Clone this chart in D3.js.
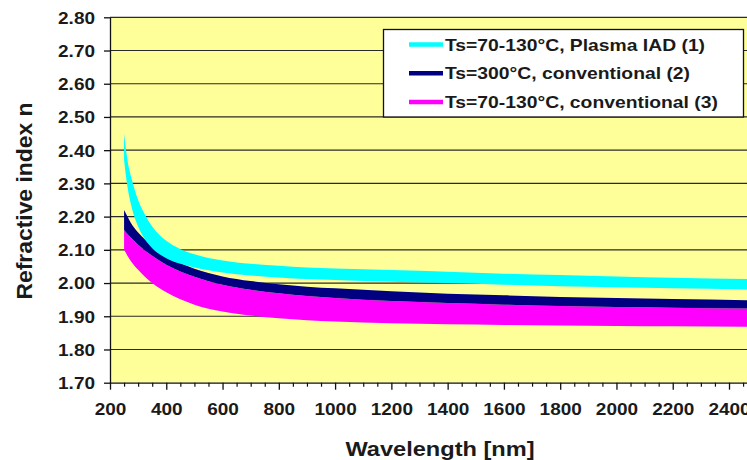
<!DOCTYPE html>
<html>
<head>
<meta charset="utf-8">
<script src="https://cdn.jsdelivr.net/npm/d3@7"></script>
<style>
  body { margin: 0; background: #fff; }
  svg { display: block; font-family: "Liberation Sans", Arial, sans-serif; }
</style>
</head>
<body>
<svg width="747" height="460"></svg>
<script>
// wavelengths (nm) sampled along the curves
const wavelength = [250, 262, 275, 300, 325, 350, 400, 450, 500, 600, 700, 800, 900, 1000, 1200, 1400, 1600, 1800, 2000, 2200, 2500];

// (1) Ts=70-130°C, Plasma IAD - band upper / lower edge
const iadUpper = [2.45, 2.37, 2.32, 2.25, 2.205, 2.17, 2.127, 2.102, 2.087, 2.068, 2.058, 2.052, 2.047, 2.044, 2.039, 2.034, 2.028, 2.024, 2.02, 2.016, 2.012];
const iadLower = [2.37, 2.29, 2.235, 2.17, 2.13, 2.105, 2.075, 2.058, 2.047, 2.032, 2.023, 2.017, 2.012, 2.009, 2.004, 2.0, 1.995, 1.99, 1.987, 1.984, 1.98];

// (2) Ts=300°C, conventional
const hotUpper = [2.22, 2.2, 2.18, 2.152, 2.13, 2.112, 2.082, 2.06, 2.043, 2.02, 2.006, 1.996, 1.989, 1.984, 1.975, 1.968, 1.963, 1.958, 1.955, 1.952, 1.948];
const hotLower = [2.16, 2.148, 2.136, 2.115, 2.097, 2.082, 2.055, 2.035, 2.019, 1.995, 1.98, 1.969, 1.961, 1.955, 1.946, 1.94, 1.935, 1.931, 1.928, 1.926, 1.923];

// (3) Ts=70-130°C, conventional
const coldUpper = [2.16, 2.148, 2.136, 2.115, 2.097, 2.082, 2.055, 2.035, 2.019, 1.995, 1.98, 1.969, 1.961, 1.955, 1.946, 1.94, 1.935, 1.931, 1.928, 1.926, 1.923];
const coldLower = [2.10, 2.082, 2.065, 2.04, 2.018, 2.0, 1.972, 1.951, 1.935, 1.914, 1.902, 1.894, 1.888, 1.884, 1.879, 1.876, 1.874, 1.872, 1.871, 1.87, 1.868];

const yTicks = [1.70, 1.80, 1.90, 2.00, 2.10, 2.20, 2.30, 2.40, 2.50, 2.60, 2.70, 2.80];
const xTicks = [200, 400, 600, 800, 1000, 1200, 1400, 1600, 1800, 2000, 2200, 2400];
const xMinorTicks = d3.range(250, 2451, 50).filter(v => v % 200 !== 0);

const seriesNames = ["Ts=70-130°C, Plasma IAD (1)", "Ts=300°C, conventional (2)", "Ts=70-130°C, conventional (3)"];
const seriesColors = ["#00ffff", "#000080", "#ff00ff"];

const series = [
  { name: seriesNames[0], color: seriesColors[0], upper: iadUpper, lower: iadLower },
  { name: seriesNames[1], color: seriesColors[1], upper: hotUpper, lower: hotLower },
  { name: seriesNames[2], color: seriesColors[2], upper: coldUpper, lower: coldLower }
];

const svg = d3.select('svg');
const plot = { left: 110, right: 747.3, top: 17.3, bottom: 382.7 };

const x = d3.scaleLinear().domain([200, 2465]).range([plot.left, plot.right]);
const y = d3.scaleLinear().domain([1.7, 2.8]).range([plot.bottom, plot.top]);

// stretch text horizontally (the source picture is a bit wider than tall)
function stretch(sel, k) {
  sel.each(function () {
    const len = this.getComputedTextLength();
    d3.select(this).attr('textLength', len * k).attr('lengthAdjust', 'spacingAndGlyphs');
  });
}

// plot background
svg.append('rect')
  .attr('x', plot.left).attr('y', plot.top)
  .attr('width', plot.right - plot.left).attr('height', plot.bottom - plot.top)
  .attr('fill', '#ffff99');

// gridlines
svg.append('g')
  .selectAll('line')
  .data(yTicks.filter(v => v > 1.7))
  .join('line')
  .attr('x1', plot.left).attr('x2', plot.right)
  .attr('y1', d => y(d)).attr('y2', d => y(d))
  .attr('stroke', '#2a2a2a')
  .attr('stroke-width', 1.2);

// bands
svg.append('clipPath').attr('id', 'plotclip')
  .append('rect')
  .attr('x', plot.left).attr('y', plot.top)
  .attr('width', plot.right - plot.left).attr('height', plot.bottom - plot.top);

const area = d3.area()
  .x(d => x(d.w))
  .y0(d => y(d.lo))
  .y1(d => y(d.hi))
  .curve(d3.curveMonotoneX);

svg.append('g')
  .attr('clip-path', 'url(#plotclip)')
  .selectAll('path')
  .data(series.slice().reverse())
  .join('path')
  .attr('d', s => area(wavelength.map((w, i) => ({ w, hi: s.upper[i], lo: s.lower[i] }))))
  .attr('fill', s => s.color);

// Y axis
const yAxis = svg.append('g')
  .attr('transform', `translate(${plot.left},0)`)
  .call(d3.axisLeft(y).tickValues(yTicks).tickFormat(d3.format('.2f')).tickSize(6).tickSizeOuter(0).tickPadding(9));
yAxis.select('.domain').attr('stroke', '#111').attr('stroke-width', 1.3);
yAxis.selectAll('.tick line').attr('stroke', '#111').attr('stroke-width', 1.3);
yAxis.selectAll('text')
  .attr('font-family', '"Liberation Sans", Arial, sans-serif')
  .attr('font-size', 16.5).attr('font-weight', 'bold').attr('fill', '#1a1a1a')
  .attr('dy', '0.36em')
  .call(stretch, 1.15);

// X axis - minor ticks
const xMinor = svg.append('g')
  .attr('transform', `translate(0,${plot.bottom})`)
  .call(d3.axisBottom(x).tickValues(xMinorTicks).tickFormat('').tickSize(4).tickSizeOuter(0));
xMinor.select('.domain').remove();
xMinor.selectAll('.tick line').attr('stroke', '#111').attr('stroke-width', 1.2);

// X axis - major ticks
const xAxis = svg.append('g')
  .attr('transform', `translate(0,${plot.bottom})`)
  .call(d3.axisBottom(x).tickValues(xTicks).tickFormat(d3.format('d')).tickSize(7).tickSizeOuter(0).tickPadding(14));
xAxis.select('.domain').attr('stroke', '#111').attr('stroke-width', 1.3);
xAxis.selectAll('.tick line').attr('stroke', '#111').attr('stroke-width', 1.3);
xAxis.selectAll('text')
  .attr('font-family', '"Liberation Sans", Arial, sans-serif')
  .attr('font-size', 16.5).attr('font-weight', 'bold').attr('fill', '#1a1a1a')
  .call(stretch, 1.15);

// axis titles
svg.append('text')
  .attr('transform', `translate(32,201) rotate(-90)`)
  .attr('text-anchor', 'middle')
  .attr('font-size', 22).attr('font-weight', 'bold').attr('fill', '#1a1a1a')
  .text('Refractive index n')
  .call(stretch, 1.04);

svg.append('text')
  .attr('x', 440).attr('y', 456)
  .attr('text-anchor', 'middle')
  .attr('font-size', 19.5).attr('font-weight', 'bold').attr('fill', '#1a1a1a')
  .text('Wavelength [nm]')
  .call(stretch, 1.21);

// legend
const legend = svg.append('g');
legend.append('rect')
  .attr('x', 383.5).attr('y', 29.5).attr('width', 360).attr('height', 87.5)
  .attr('fill', '#fff').attr('stroke', '#111').attr('stroke-width', 1.3);

const rows = legend.selectAll('g.row')
  .data(series)
  .join('g')
  .attr('class', 'row')
  .attr('transform', (d, i) => `translate(0,${44.5 + i * 28.7})`);

rows.append('line')
  .attr('x1', 409).attr('x2', 443)
  .attr('stroke', d => d.color).attr('stroke-width', 4.5);

rows.append('text')
  .attr('x', 445).attr('y', 6)
  .attr('font-size', 16.5).attr('font-weight', 'bold').attr('fill', '#1a1a1a')
  .text(d => d.name)
  .call(stretch, 1.17);
</script>
</body>
</html>
